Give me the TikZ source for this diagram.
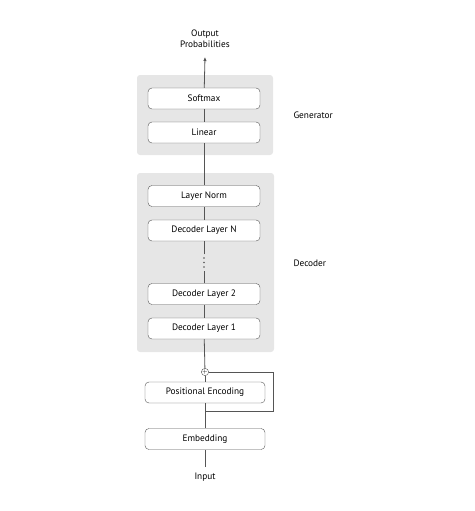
\documentclass[tikz,border=0pt]{standalone}
\usepackage{fontspec}
\setmainfont{PT Sans}
\usepackage{tikz}
\usetikzlibrary{arrows.meta, positioning, calc}
\definecolor{linegray}{RGB}{85,85,85}
\definecolor{panelgray}{RGB}{230,230,230}

\begin{document}
\begin{tikzpicture}[x=1pt, y=-1pt,
  layer/.style={draw=linegray, fill=white, rounded corners=4pt, minimum width=112pt, minimum height=21pt, inner sep=0pt, font=\fontsize{9.3}{11}\selectfont},
  wide/.style={layer, minimum width=120pt},
  panel/.style={fill=panelgray, rounded corners=3pt},
  lbl/.style={font=\fontsize{9.3}{11}\selectfont, align=center},
  conn/.style={draw=linegray, line width=0.8pt}]
  \useasboundingbox (0,0) rectangle (474,511);
  % panels
  \fill[panel] (137,75) rectangle (273,155);
  \fill[panel] (137,173) rectangle (274,352);
  \node[lbl, anchor=west] (gen) at (290,115) {Generator};
  \node[lbl, anchor=west] (dec) at (290,263) {Decoder};
  % generator
  \node[layer] (softmax) at (204,98.5) {Softmax};
  \node[layer] (linear) at (204,132.5) {Linear};
  % decoder
  \node[layer] (norm) at (204,196) {Layer Norm};
  \node[layer] (decN) at (204,230.5) {Decoder Layer N};
  \node[minimum height=16pt, minimum width=4pt, inner sep=0pt] (dots) at (204,262.5) {};
  \foreach \d in {-4.5,0,4.5}
    \fill[linegray] ($(dots)+(0,\d)$) circle (0.9pt);
  \node[layer] (dec2) at (204,294) {Decoder Layer 2};
  \node[layer] (dec1) at (204,328.5) {Decoder Layer 1};
  % input side
  \node[draw=linegray, circle, inner sep=0pt, minimum size=7pt, font=\fontsize{6}{6}\selectfont] (plus) at (205,372) {$+$};
  \node[wide] (pos) at (205,392.5) {Positional Encoding};
  \node[wide] (emb) at (205,439) {Embedding};
  \node[lbl] (inp) at (205,477) {Input};
  \coordinate (inend) at (205,467);
  \node[lbl] (out) at (205,39) {Output\\Probabilities};
  \coordinate (outtip) at (205,57);
  \coordinate (loopr) at (273,372);
  \coordinate (loopb) at (273,411);
  \coordinate (loopm) at (205,411);
  % connectors
  \draw[conn] (inend) -- (emb);
  \draw[conn] (emb) -- (pos);
  \draw[conn] (pos) -- (plus);
  \draw[conn] (loopm) -- (loopb) -- (loopr) -- (plus);
  \draw[conn] (plus) -- (dec1);
  \draw[conn] (dec1) -- (dec2);
  \draw[conn] (dec2) -- (dots);
  \draw[conn] (dots) -- (decN);
  \draw[conn] (decN) -- (norm);
  \draw[conn] (norm) -- (linear);
  \draw[conn] (linear) -- (softmax);
  \draw[conn, -{Latex[length=4pt, width=3.5pt]}] (softmax) -- (outtip);
\end{tikzpicture}
\end{document}
